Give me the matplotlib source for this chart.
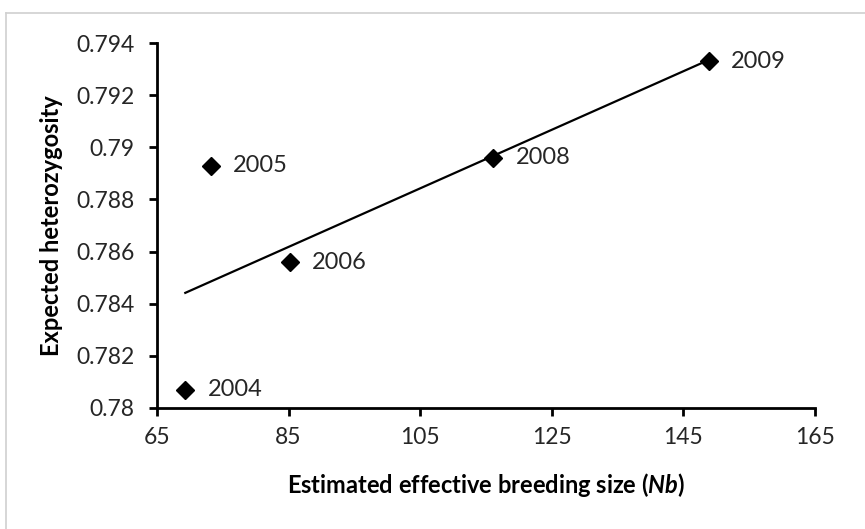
import matplotlib
matplotlib.use("Agg")
import matplotlib.pyplot as plt
from matplotlib.lines import Line2D
import numpy as np

years = ["2004", "2005", "2006", "2008", "2009"]
nb = [69.3, 73.2, 85.2, 116.1, 148.9]
he = [0.7807, 0.7893, 0.7856, 0.7896, 0.7933]
xticks = [65, 85, 105, 125, 145, 165]
yticks = [0.78, 0.782, 0.784, 0.786, 0.788, 0.79, 0.792, 0.794]
ytick_labels = ["0.78", "0.782", "0.784", "0.786", "0.788", "0.79", "0.792", "0.794"]

plt.rcParams['font.family'] = ['Lato', 'DejaVu Sans']
plt.rcParams['mathtext.fontset'] = 'custom'
plt.rcParams['mathtext.bfit'] = 'Lato:italic:bold'
plt.rcParams['mathtext.rm'] = 'Lato'

fig = plt.figure(figsize=(8.65, 5.29), dpi=100)
ax = fig.add_axes([157/865, 1 - 408/529, (815 - 157)/865, (408 - 43)/529])

# outer chart border (top and left visible)
fig.add_artist(Line2D([6/865, 6/865], [0, 1 - 13/529], transform=fig.transFigure, color='#d0d0d0', lw=1.2))
fig.add_artist(Line2D([6/865, 1], [1 - 13/529, 1 - 13/529], transform=fig.transFigure, color='#d0d0d0', lw=1.2))

# trendline (linear regression on all points)
slope, intercept = np.polyfit(nb, he, 1)
xs = np.array([min(nb), max(nb)])
ax.plot(xs, slope * xs + intercept, color='black', lw=1.6, zorder=2)

ax.plot(nb, he, linestyle='none', marker='D', markersize=9.5, color='black', zorder=3)
for x, y, lab in zip(nb, he, years):
    ax.annotate(lab, (x, y), xytext=(16, 0), textcoords='offset points',
                ha='left', va='center', fontsize=17, color='#262626')

ax.set_xlim(65, 165)
ax.set_ylim(0.78, 0.794)
ax.set_xticks(xticks)
ax.set_xticklabels([str(t) for t in xticks])
ax.set_yticks(yticks)
ax.set_yticklabels(ytick_labels)
for s in ['top', 'right']:
    ax.spines[s].set_visible(False)
for s in ['left', 'bottom']:
    ax.spines[s].set_linewidth(2)
ax.tick_params(direction='out', length=6, width=2, labelsize=16.5, labelcolor='#262626')
ax.tick_params(axis='y', pad=10)
ax.tick_params(axis='x', pad=8)

ax.set_xlabel(r"Estimated effective breeding size ($\mathbfit{Nb}$)", fontsize=17, fontweight='bold', labelpad=16)
ax.set_ylabel("Expected heterozygosity", fontsize=17, fontweight='bold', labelpad=10)

fig.savefig("out.png", dpi=100)
